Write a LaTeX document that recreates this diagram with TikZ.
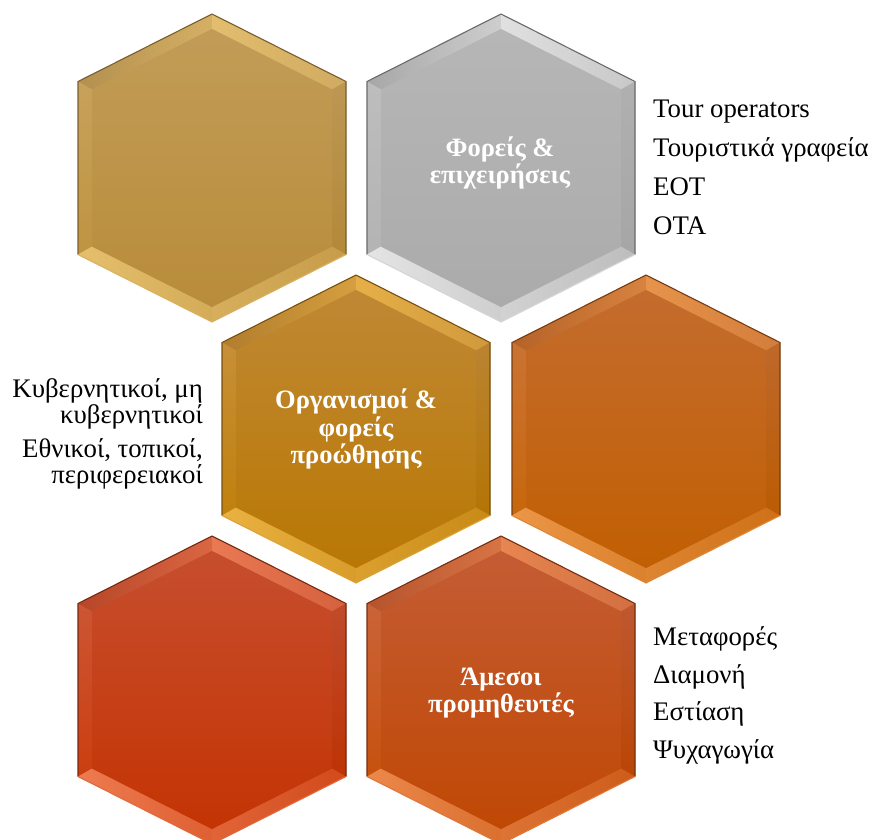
\documentclass[tikz,border=0pt]{standalone}
\usepackage{fontspec}
\setmainfont{Liberation Serif}
\definecolor{gtop}{HTML}{C29C57}\definecolor{gbot}{HTML}{B88C3A}\definecolor{glight}{HTML}{F0CC78}\definecolor{gdark}{HTML}{7A5E30}
\definecolor{stop}{HTML}{B6B6B6}\definecolor{sbot}{HTML}{ABABAB}\definecolor{slight}{HTML}{F2F2F2}\definecolor{sdark}{HTML}{6A6A6A}
\definecolor{otop}{HTML}{C08834}\definecolor{obot}{HTML}{B97804}\definecolor{olight}{HTML}{F6C050}\definecolor{odark}{HTML}{77500F}
\definecolor{rtop}{HTML}{C46C2E}\definecolor{rbot}{HTML}{C15F02}\definecolor{rlight}{HTML}{F5A458}\definecolor{rdark}{HTML}{773C10}
\definecolor{ktop}{HTML}{C64E2E}\definecolor{kbot}{HTML}{C43404}\definecolor{klight}{HTML}{F88C62}\definecolor{kdark}{HTML}{772810}
\definecolor{mtop}{HTML}{C45C34}\definecolor{mbot}{HTML}{C04804}\definecolor{mlight}{HTML}{F5985C}\definecolor{mdark}{HTML}{772E10}
\newcommand{\hexcell}[3]{%
 \begin{scope}[shift={(#1,#2)}]
  \fill[#3top] (0,-154) -- (-134,-86.5) -- (-134,86.5) -- (0,154) -- (134,86.5) -- (134,-86.5) -- cycle;
  \shade[left color=#3top!80!#3dark, right color=#3light!40!#3top] (0,-154) -- (-134,-86.5) -- (-120,-78.5) -- (0,-139) -- cycle;
  \shade[left color=#3light!70!#3top, right color=#3light!30!#3top] (0,-154) -- (134,-86.5) -- (120,-78.5) -- (0,-139) -- cycle;
  \shade[top color=#3top!88!#3light, bottom color=#3bot!88!#3light] (-134,-86.5) -- (-134,86.5) -- (-120,78.5) -- (-120,-78.5) -- cycle;
  \shade[top color=#3top!92!#3dark, bottom color=#3bot!92!#3dark] (134,-86.5) -- (134,86.5) -- (120,78.5) -- (120,-78.5) -- cycle;
  \shade[left color=#3light!80!#3bot, right color=#3light!50!#3bot] (-134,86.5) -- (0,154) -- (0,139) -- (-120,78.5) -- cycle;
  \shade[left color=#3light!55!#3bot, right color=#3light!25!#3bot] (134,86.5) -- (0,154) -- (0,139) -- (120,78.5) -- cycle;
  \shade[top color=#3top, bottom color=#3bot] (0,-139) -- (-120,-78.5) -- (-120,78.5) -- (0,139) -- (120,78.5) -- (120,-78.5) -- cycle;
  \draw[#3dark, line width=1.1, line join=miter] (-134,86.5) -- (-134,-86.5) -- (0,-154) -- (134,-86.5) -- (134,86.5);
  \draw[#3light!60!#3bot, line width=1.1] (-134,86.5) -- (0,154) -- (134,86.5);
 \end{scope}}
\begin{document}
\begin{tikzpicture}[x=1pt,y=-1pt,
  hextext/.style={anchor=base, text=white, font=\fontsize{26.5}{28}\selectfont\bfseries, inner sep=0pt},
  sidetext/.style={anchor=base west, text=black, font=\fontsize{26.8}{28}\selectfont, inner sep=0pt},
  lefttext/.style={anchor=base east, text=black, font=\fontsize{26.8}{28}\selectfont, inner sep=0pt}]
\useasboundingbox (0,0) rectangle (873,839);
\fill[white] (0,0) rectangle (873,839);
\hexcell{212}{168}{g}
\hexcell{501}{168}{s}
\hexcell{356}{429}{o}
\hexcell{646}{429}{r}
\hexcell{212}{690}{k}
\hexcell{501}{690}{m}
% hex labels
\node[hextext] (b1) at (500,156) {Φορείς \&};
\node[hextext] (b2) at (500,183) {επιχειρήσεις};
\node[hextext] (c1) at (356,408) {Οργανισμοί \&};
\node[hextext] (c2) at (356,436) {φορείς};
\node[hextext] (c3) at (356,463) {προώθησης};
\node[hextext] (d1) at (501,685) {Άμεσοι};
\node[hextext] (d2) at (501,712) {προμηθευτές};
% right top list
\node[sidetext] (r1) at (653,117) {Tour operators};
\node[sidetext] (r2) at (653,156) {Τουριστικά γραφεία};
\node[sidetext] (r3) at (653,195) {ΕΟΤ};
\node[sidetext] (r4) at (653,234) {ΟΤΑ};
% left list
\node[lefttext] (l1) at (203,397) {Κυβερνητικοί, μη};
\node[lefttext] (l2) at (203,423) {κυβερνητικοί};
\node[lefttext] (l3) at (203,457) {Εθνικοί, τοπικοί,};
\node[lefttext] (l4) at (203,483) {περιφερειακοί};
% right bottom list
\node[sidetext] (m1) at (653,645) {Μεταφορές};
\node[sidetext] (m2) at (653,683) {Διαμονή};
\node[sidetext] (m3) at (653,720) {Εστίαση};
\node[sidetext] (m4) at (653,758) {Ψυχαγωγία};
\end{tikzpicture}
\end{document}
